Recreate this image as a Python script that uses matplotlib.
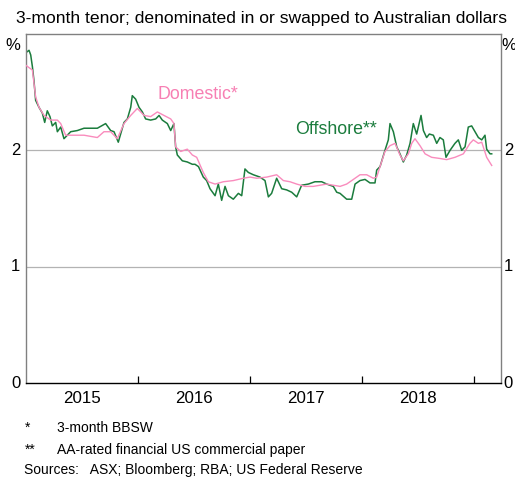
import matplotlib
matplotlib.use("Agg")
import matplotlib.pyplot as plt

plt.rcParams['font.family'] = ['Liberation Sans', 'DejaVu Sans']

# Offshore (AA-rated financial US CP, swapped to AUD), decimal year / per cent
offshore_t = [2015.000, 2015.027, 2015.042, 2015.057, 2015.071, 2015.086, 2015.116, 2015.146,
              2015.167, 2015.190, 2015.214, 2015.235, 2015.265, 2015.280, 2015.310, 2015.339,
              2015.399, 2015.458, 2015.518, 2015.577, 2015.637, 2015.711, 2015.756, 2015.786,
              2015.824, 2015.845, 2015.875, 2015.905, 2015.935, 2015.949, 2015.979, 2016.009,
              2016.039, 2016.068, 2016.113, 2016.158, 2016.188, 2016.217, 2016.262, 2016.292,
              2016.321, 2016.336, 2016.351, 2016.396, 2016.440, 2016.485, 2016.509, 2016.540,
              2016.583, 2016.613, 2016.643, 2016.688, 2016.717, 2016.747, 2016.777, 2016.807,
              2016.851, 2016.896, 2016.926, 2016.955, 2016.985, 2017.030, 2017.089, 2017.134,
              2017.164, 2017.193, 2017.238, 2017.283, 2017.327, 2017.372, 2017.417, 2017.461,
              2017.521, 2017.580, 2017.640, 2017.685, 2017.744, 2017.774, 2017.804, 2017.863,
              2017.908, 2017.938, 2017.982, 2018.027, 2018.071, 2018.116, 2018.131, 2018.161,
              2018.205, 2018.235, 2018.250, 2018.280, 2018.310, 2018.339, 2018.369, 2018.399,
              2018.429, 2018.458, 2018.488, 2018.527, 2018.548, 2018.577, 2018.601, 2018.637,
              2018.667, 2018.696, 2018.726, 2018.750, 2018.786, 2018.830, 2018.860, 2018.890,
              2018.920, 2018.949, 2018.979, 2019.009, 2019.039, 2019.069, 2019.098, 2019.113,
              2019.143, 2019.158]
offshore_v = [2.84, 2.86, 2.82, 2.72, 2.60, 2.43, 2.37, 2.32,
              2.24, 2.34, 2.29, 2.21, 2.24, 2.16, 2.20, 2.10,
              2.16, 2.17, 2.19, 2.19, 2.19, 2.23, 2.17, 2.16,
              2.07, 2.14, 2.24, 2.27, 2.37, 2.47, 2.44, 2.37,
              2.33, 2.27, 2.26, 2.27, 2.30, 2.26, 2.23, 2.17,
              2.23, 2.03, 1.96, 1.91, 1.90, 1.88, 1.88, 1.86,
              1.77, 1.74, 1.67, 1.61, 1.71, 1.57, 1.69, 1.61,
              1.58, 1.63, 1.61, 1.84, 1.81, 1.79, 1.77, 1.74,
              1.60, 1.63, 1.76, 1.67, 1.66, 1.64, 1.60, 1.70,
              1.71, 1.73, 1.73, 1.71, 1.69, 1.64, 1.63, 1.58,
              1.58, 1.71, 1.74, 1.75, 1.72, 1.72, 1.83, 1.86,
              2.00, 2.09, 2.23, 2.16, 2.03, 1.97, 1.90, 1.96,
              2.06, 2.23, 2.14, 2.30, 2.17, 2.11, 2.14, 2.13,
              2.06, 2.11, 2.09, 1.94, 2.00, 2.06, 2.09, 2.00,
              2.03, 2.20, 2.21, 2.16, 2.11, 2.09, 2.13, 2.01,
              1.97, 1.97]

# Domestic (3-month BBSW)
domestic_t = [2015.000, 2015.057, 2015.086, 2015.116, 2015.161, 2015.220, 2015.280, 2015.310,
              2015.354, 2015.429, 2015.518, 2015.577, 2015.637, 2015.696, 2015.756, 2015.815,
              2015.875, 2015.935, 2015.994, 2016.054, 2016.113, 2016.173, 2016.232, 2016.292,
              2016.321, 2016.336, 2016.381, 2016.440, 2016.485, 2016.524, 2016.583, 2016.628,
              2016.688, 2016.762, 2016.851, 2016.940, 2017.000, 2017.060, 2017.149, 2017.238,
              2017.298, 2017.357, 2017.417, 2017.491, 2017.565, 2017.625, 2017.685, 2017.744,
              2017.804, 2017.863, 2017.923, 2017.982, 2018.042, 2018.101, 2018.131, 2018.161,
              2018.205, 2018.250, 2018.295, 2018.339, 2018.369, 2018.414, 2018.444, 2018.473,
              2018.518, 2018.563, 2018.622, 2018.696, 2018.756, 2018.830, 2018.905, 2018.964,
              2018.994, 2019.039, 2019.069, 2019.113, 2019.158]
domestic_v = [2.73, 2.69, 2.46, 2.37, 2.30, 2.26, 2.26, 2.23,
              2.13, 2.13, 2.13, 2.12, 2.11, 2.16, 2.16, 2.10,
              2.23, 2.30, 2.36, 2.30, 2.29, 2.33, 2.30, 2.27,
              2.23, 2.03, 1.99, 2.01, 1.96, 1.94, 1.81, 1.73,
              1.71, 1.73, 1.74, 1.76, 1.77, 1.76, 1.77, 1.79,
              1.74, 1.73, 1.71, 1.69, 1.69, 1.70, 1.71, 1.70,
              1.69, 1.71, 1.75, 1.79, 1.79, 1.76, 1.77, 1.86,
              1.99, 2.04, 2.06, 1.96, 1.91, 1.97, 2.06, 2.10,
              2.04, 1.97, 1.94, 1.93, 1.92, 1.94, 1.97, 2.06,
              2.09, 2.06, 2.07, 1.94, 1.87]

year_labels = ['2015', '2016', '2017', '2018']
yticks = [0, 1, 2]

GREEN = '#1b7c3d'
PINK = '#f98cbd'

fig = plt.figure(figsize=(5.15, 4.8), dpi=100)
ax = fig.add_axes([26/515, 1-383/480, 475/515, 349/480])

ax.set_xlim(2015.0, 2019.241)
ax.set_ylim(0, 3)

for y in [1, 2]:
    ax.axhline(y, color='#b3b3b3', lw=0.9, zorder=1)

ax.plot(domestic_t, domestic_v, color=PINK, lw=1.0, zorder=3)
ax.plot(offshore_t, offshore_v, color=GREEN, lw=1.1, zorder=2)

for s in ['left', 'right', 'top']:
    ax.spines[s].set_color('#808080')
    ax.spines[s].set_linewidth(1.0)
ax.spines['bottom'].set_color('black')
ax.spines['bottom'].set_linewidth(1.0)

ax.set_xticks([2016, 2017, 2018, 2019])
ax.set_xticklabels([])
ax.tick_params(axis='x', direction='in', length=5, color='black', width=0.9)
ax.set_yticks([])

for i, lab in enumerate(year_labels):
    ax.text(2015.5 + i, -0.07, lab, ha='center', va='top', fontsize=12.2, transform=ax.transData)

for y in yticks:
    ax.text(-0.012, y, str(y), ha='right', va='center', fontsize=12, transform=ax.get_yaxis_transform())
    ax.text(1.006, y, str(y), ha='left', va='center', fontsize=12, transform=ax.get_yaxis_transform())
fig.text(13/515, 1-45/480, '%', ha='center', va='center', fontsize=12)
fig.text(509/515, 1-45/480, '%', ha='center', va='center', fontsize=12)

fig.text(261/515, 1-18/480, '3-month tenor; denominated in or swapped to Australian dollars',
         ha='center', va='center', fontsize=12.6)

ax.text(2016.17, 2.48, 'Domestic*', color='#f77fb3', fontsize=12.8, ha='left', va='center')
ax.text(2017.40, 2.18, 'Offshore**', color=GREEN, fontsize=12.8, ha='left', va='center')

fs = 10
fig.text(25/515, 1-428/480, '*', ha='left', va='center', fontsize=fs)
fig.text(57/515, 1-428/480, '3-month BBSW', ha='left', va='center', fontsize=fs)
fig.text(25/515, 1-450/480, '**', ha='left', va='center', fontsize=fs)
fig.text(57/515, 1-450/480, 'AA-rated financial US commercial paper', ha='left', va='center', fontsize=fs)
fig.text(24/515, 1-470/480, 'Sources:   ASX; Bloomberg; RBA; US Federal Reserve', ha='left', va='center', fontsize=fs)

fig.savefig('out.png', dpi=100)
